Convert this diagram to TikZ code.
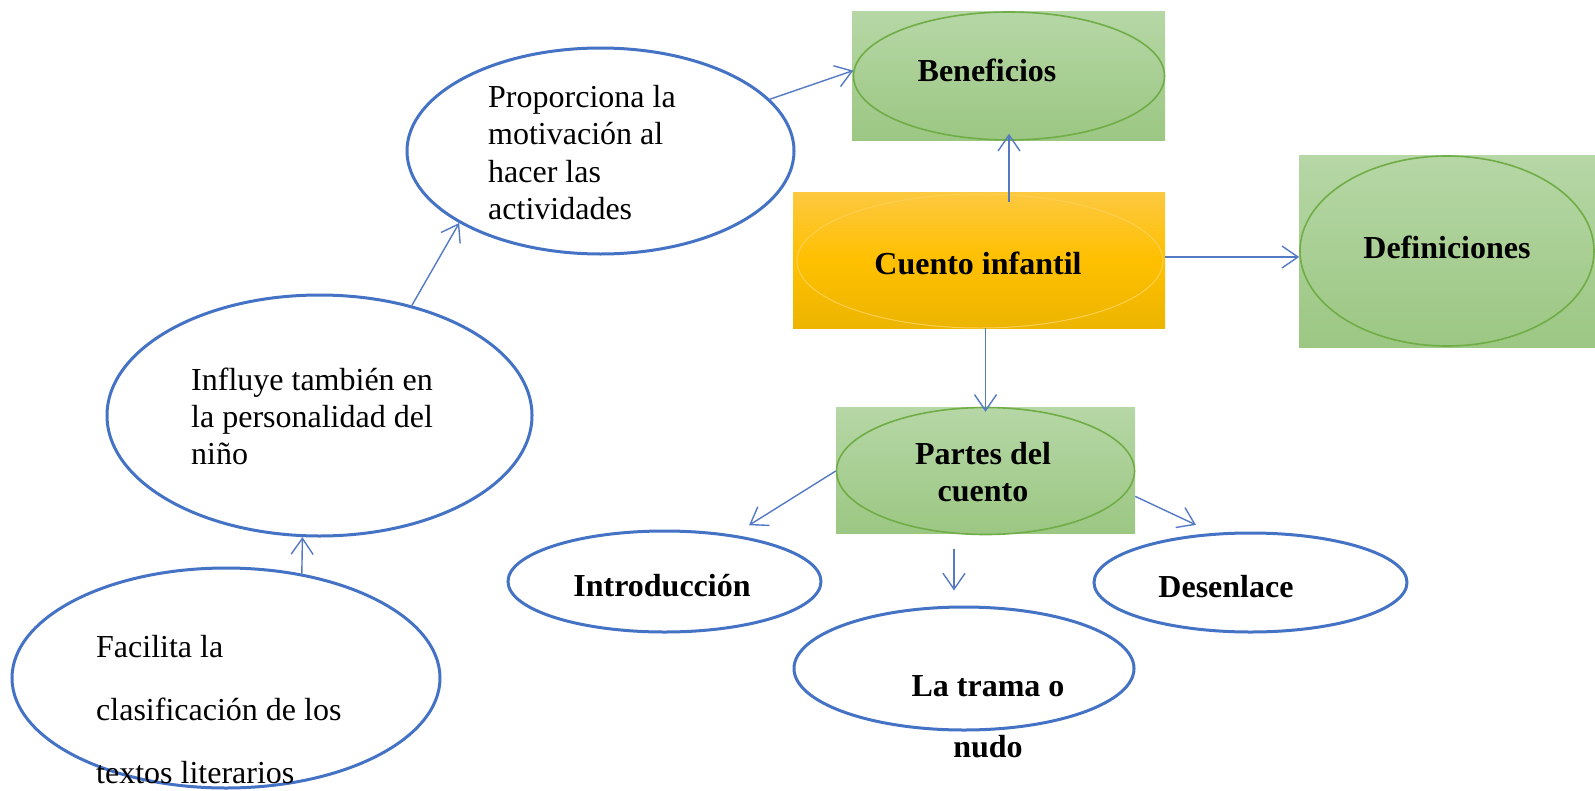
\documentclass[tikz,border=0pt]{standalone}
\usepackage{fontspec}
\setmainfont{Liberation Serif}
\usetikzlibrary{arrows.meta,shapes.geometric,calc}
\definecolor{blueln}{RGB}{68,114,196}
\definecolor{arrowln}{RGB}{84,122,196}
\definecolor{greenln}{RGB}{112,173,71}
\definecolor{greentop}{RGB}{182,215,166}
\definecolor{greenbot}{RGB}{156,199,131}
\definecolor{orangetop}{RGB}{252,200,64}
\definecolor{orangemid}{RGB}{255,192,0}
\definecolor{orangebot}{RGB}{236,181,0}
\definecolor{orangeln}{RGB}{255,208,80}
\begin{document}
\begin{tikzpicture}[x=1pt,y=-1pt,
  blueell/.style={ellipse, draw=blueln, line width=3pt, inner sep=0pt},
  greenbox/.style={rectangle, inner sep=0pt, draw=none, top color=greentop, bottom color=greenbot},
  greenell/.style={ellipse, draw=greenln, line width=1.6pt, inner sep=0pt},
  orangebox/.style={rectangle, inner sep=0pt, draw=none, top color=orangetop, bottom color=orangebot, middle color=orangemid},
  orangeell/.style={ellipse, draw=orangeln, line width=1pt, inner sep=0pt},
  arr/.style={draw=arrowln, line width=1.4pt, -{Straight Barb[length=16pt,width=22pt]}},
  plaintxt/.style={inner sep=0pt, align=left, anchor=north west},
  boldtxt/.style={font=\fontsize{32}{37.5}\selectfont\bfseries, inner sep=0pt},
]
\path[use as bounding box] (0,0) rectangle (1595,790);

% left chain of blue ellipses
\node[blueell, minimum width=428, minimum height=220] (fac) at (226,678) {};
\node[blueell, minimum width=425, minimum height=241] (inf) at (319.5,415.5) {};
\node[blueell, minimum width=387, minimum height=206] (pro) at (600.5,151) {};

% Beneficios
\node[greenbox, minimum width=313, minimum height=129] (benbox) at (1008.5,75.5) {};
\node[greenell, minimum width=311, minimum height=128] (ben) at (1009,76) {};

% Cuento infantil
\node[orangebox, minimum width=372, minimum height=136] (cuebox) at (979,260) {};
\node[orangeell, minimum width=366, minimum height=134] (cueell) at (980,261) {};

% Definiciones
\node[greenbox, minimum width=296, minimum height=192] (defbox) at (1447,251) {};
\node[greenell, minimum width=294, minimum height=190] (def) at (1447,251) {};

% Partes del cuento
\node[greenbox, minimum width=299, minimum height=126] (parbox) at (985.5,470) {};
\node[greenell, minimum width=298, minimum height=127] (par) at (985.5,471) {};

% lower blue ellipses
\node[blueell, minimum width=313, minimum height=101] (int) at (664.5,581.5) {};
\node[blueell, minimum width=313, minimum height=99] (des) at (1250.5,582.5) {};
\node[blueell, minimum width=340, minimum height=123] (tra) at (964,668.5) {};

% texts
\node[plaintxt, font=\fontsize{32}{37.5}\selectfont] (tpro) at (488,80.75)
  {\strut Proporciona la\\motivación al\\hacer las\\actividades};
\node[plaintxt, font=\fontsize{32}{37}\selectfont] (tinf) at (191,364)
  {\strut Influye también en\\la personalidad del\\niño};
\node[plaintxt, font=\fontsize{32}{63}\selectfont] (tfac) at (96,612.9)
  {\strut Facilita la\\clasificación de los\\textos literarios};

\node[boldtxt, anchor=base] (tben) at (987,81) {Beneficios};
\node[boldtxt, anchor=base] (tcue) at (978,274) {Cuento infantil};
\node[boldtxt, anchor=base] (tdef) at (1447,258) {Definiciones};
\node[boldtxt, font=\fontsize{32}{37}\selectfont\bfseries, align=center, anchor=north] (tpar) at (983,438.1)
  {\strut Partes del\\cuento};
\node[boldtxt, anchor=base] (tint) at (662,596) {Introducción};
\node[boldtxt, anchor=base] (tdes) at (1226,597) {Desenlace};
\node[boldtxt, font=\fontsize{32}{61}\selectfont\bfseries, align=center, anchor=north] (ttra) at (988,653.3)
  {\strut La trama o\\nudo};

% connectors
\draw[arr] (fac.54) -- (inf.262);
\draw[arr] (inf.50) -- (pro.207);
\draw[arr] (pro.17) -- (ben.178);
\draw[arr] ([yshift=-10pt]cuebox.north -| ben.south) -- ([yshift=7pt]ben.south);
\draw[arr] ([yshift=3pt]cuebox.east) -- ([yshift=3pt]cuebox.east -| def.west);
\draw[arr] (cuebox.south -| parbox.north) -- ([yshift=-5pt]parbox.north);
\draw[arr, shorten >=18pt] (par.west) -- (int.34);
\draw[arr, shorten >=19pt] (parbox.350) -- (des.127);
\draw[arr, shorten <=16pt, shorten >=15pt] ([xshift=-31.5pt]parbox.south) -- ([xshift=-31.5pt]parbox.south |- tra.north);
\end{tikzpicture}
\end{document}
